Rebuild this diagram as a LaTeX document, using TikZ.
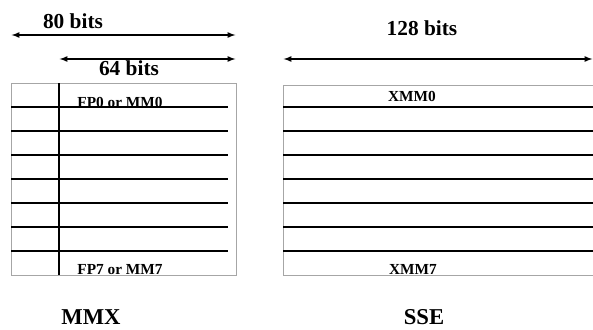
\documentclass[tikz,border=0pt]{standalone}
\usepackage{fontspec}
\setmainfont{Liberation Serif}
\usetikzlibrary{arrows, positioning}
\tikzstyle{registro} = [draw=gray!70, line width=0.7pt, rectangle, inner sep=0pt, anchor=north west]
\tikzstyle{ancho} = [font=\bfseries\fontsize{16}{18}\selectfont, inner sep=0pt, anchor=base]
\tikzstyle{nombre} = [font=\bfseries\fontsize{11.5}{13}\selectfont, inner sep=0pt, anchor=base]
\tikzstyle{titulo} = [font=\bfseries\fontsize{17}{19}\selectfont, inner sep=0pt, anchor=base]
\tikzstyle{raya} = [line width=1.3pt]
\tikzstyle{flecha} = [line width=1pt, -latex, latex-latex, shorten <=-1pt, shorten >=-1pt]

\begin{document}
\begin{tikzpicture}[x=0.75pt, y=-0.75pt]
	\useasboundingbox (0,0) rectangle (593,329);
	% registros
	\node [registro, minimum width=168.75pt, minimum height=144pt] (mmx) at (11,83) {};
	\node [registro, minimum width=240pt, minimum height=142.5pt] (sse) at (283,85) {};
	\draw [raya] (59,83) -- (59,275);
	\foreach \k in {0,...,6}{
		\draw [raya] (11,107+24*\k) -- (228,107+24*\k);
		\draw [raya] (283,107+24*\k) -- (600,107+24*\k);
	}
	% anchos
	\coordinate (a80i) at (13,35);
	\coordinate (a80d) at (234,35);
	\coordinate (a64i) at (61,59);
	\coordinate (a64d) at (234,59);
	\coordinate (a128i) at (285,59);
	\coordinate (a128d) at (591,59);
	\draw [flecha] (a80i) -- (a80d);
	\draw [flecha] (a64i) -- (a64d);
	\draw [flecha] (a128i) -- (a128d);
	\node [ancho] (t80) at (73,28) {80 bits};
	\node [ancho] (t64) at (129,75) {64 bits};
	\node [ancho] (t128) at (422,35) {128 bits};
	% nombres
	\node [nombre] (fp0) at (120,107) {FP0 or MM0};
	\node [nombre] (fp7) at (120,274) {FP7 or MM7};
	\node [nombre] (xmm0) at (412,101) {XMM0};
	\node [nombre] (xmm7) at (413,274) {XMM7};
	\node [titulo] (tmmx) at (91,324) {MMX};
	\node [titulo] (tsse) at (424,324) {SSE};
\end{tikzpicture}
\end{document}
